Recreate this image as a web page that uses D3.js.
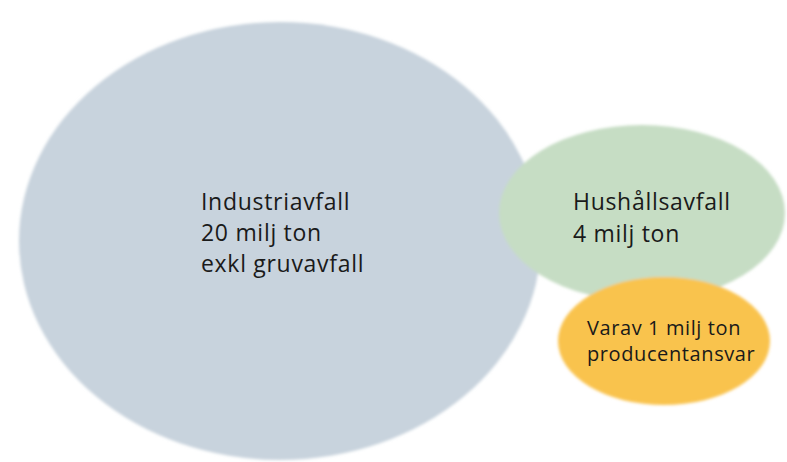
<!DOCTYPE html>
<html><head><meta charset="utf-8">
<script src="https://cdn.jsdelivr.net/npm/d3@7"></script>
<style>html,body{margin:0;padding:0;background:#fff;}svg{display:block;}</style>
</head><body>
<script>
const categories = ["Industriavfall", "Hushållsavfall", "Producentansvar"];
const values = [20, 4, 1]; // milj ton
const labels = [
  ["Industriavfall", "20 milj ton", "exkl gruvavfall"],
  ["Hushållsavfall", "4 milj ton"],
  ["Varav 1 milj ton", "producentansvar"]
];
const colors = ["#c8d3dd", "#c6ddc4", "#f9c34e"];

const W = 787, H = 462;
const svg = d3.select("body").append("svg").attr("width", W).attr("height", H);
const defs = svg.append("defs");
defs.append("filter").attr("id", "soft").attr("x", "-5%").attr("y", "-5%").attr("width", "110%").attr("height", "110%")
  .append("feGaussianBlur").attr("stdDeviation", 1.6);

const color = d3.scaleOrdinal().domain(categories).range(colors);

// layout geometry (not data)
const layout = [
  {cx: 280, cy: 241, rx: 261, ry: 219, tx: 201, ty: 210, fs: 23, lh: 31, ls: 0.7},
  {cx: 642, cy: 213, rx: 143, ry: 88, tx: 573, ty: 210, fs: 23, lh: 32, ls: 0.7},
  {cx: 664, cy: 341, rx: 106, ry: 64, tx: 587, ty: 335, fs: 20, lh: 26, ls: 0.6}
];

const nodes = categories.map((c, i) => ({cat: c, value: values[i], lines: labels[i], ...layout[i]}));

svg.append("g").attr("filter", "url(#soft)")
  .selectAll("ellipse").data(nodes).join("ellipse")
  .attr("cx", d => d.cx).attr("cy", d => d.cy)
  .attr("rx", d => d.rx).attr("ry", d => d.ry)
  .attr("fill", d => color(d.cat));

const tg = svg.append("g").attr("font-family", "'Open Sans', sans-serif").attr("fill", "#1a1a1a");
nodes.forEach(d => {
  const t = tg.append("text").attr("font-size", d.fs).attr("letter-spacing", d.ls);
  d.lines.forEach((l, j) => {
    t.append("tspan").attr("x", d.tx).attr("y", d.ty + j * d.lh).text(l);
  });
});
</script>
</body></html>
